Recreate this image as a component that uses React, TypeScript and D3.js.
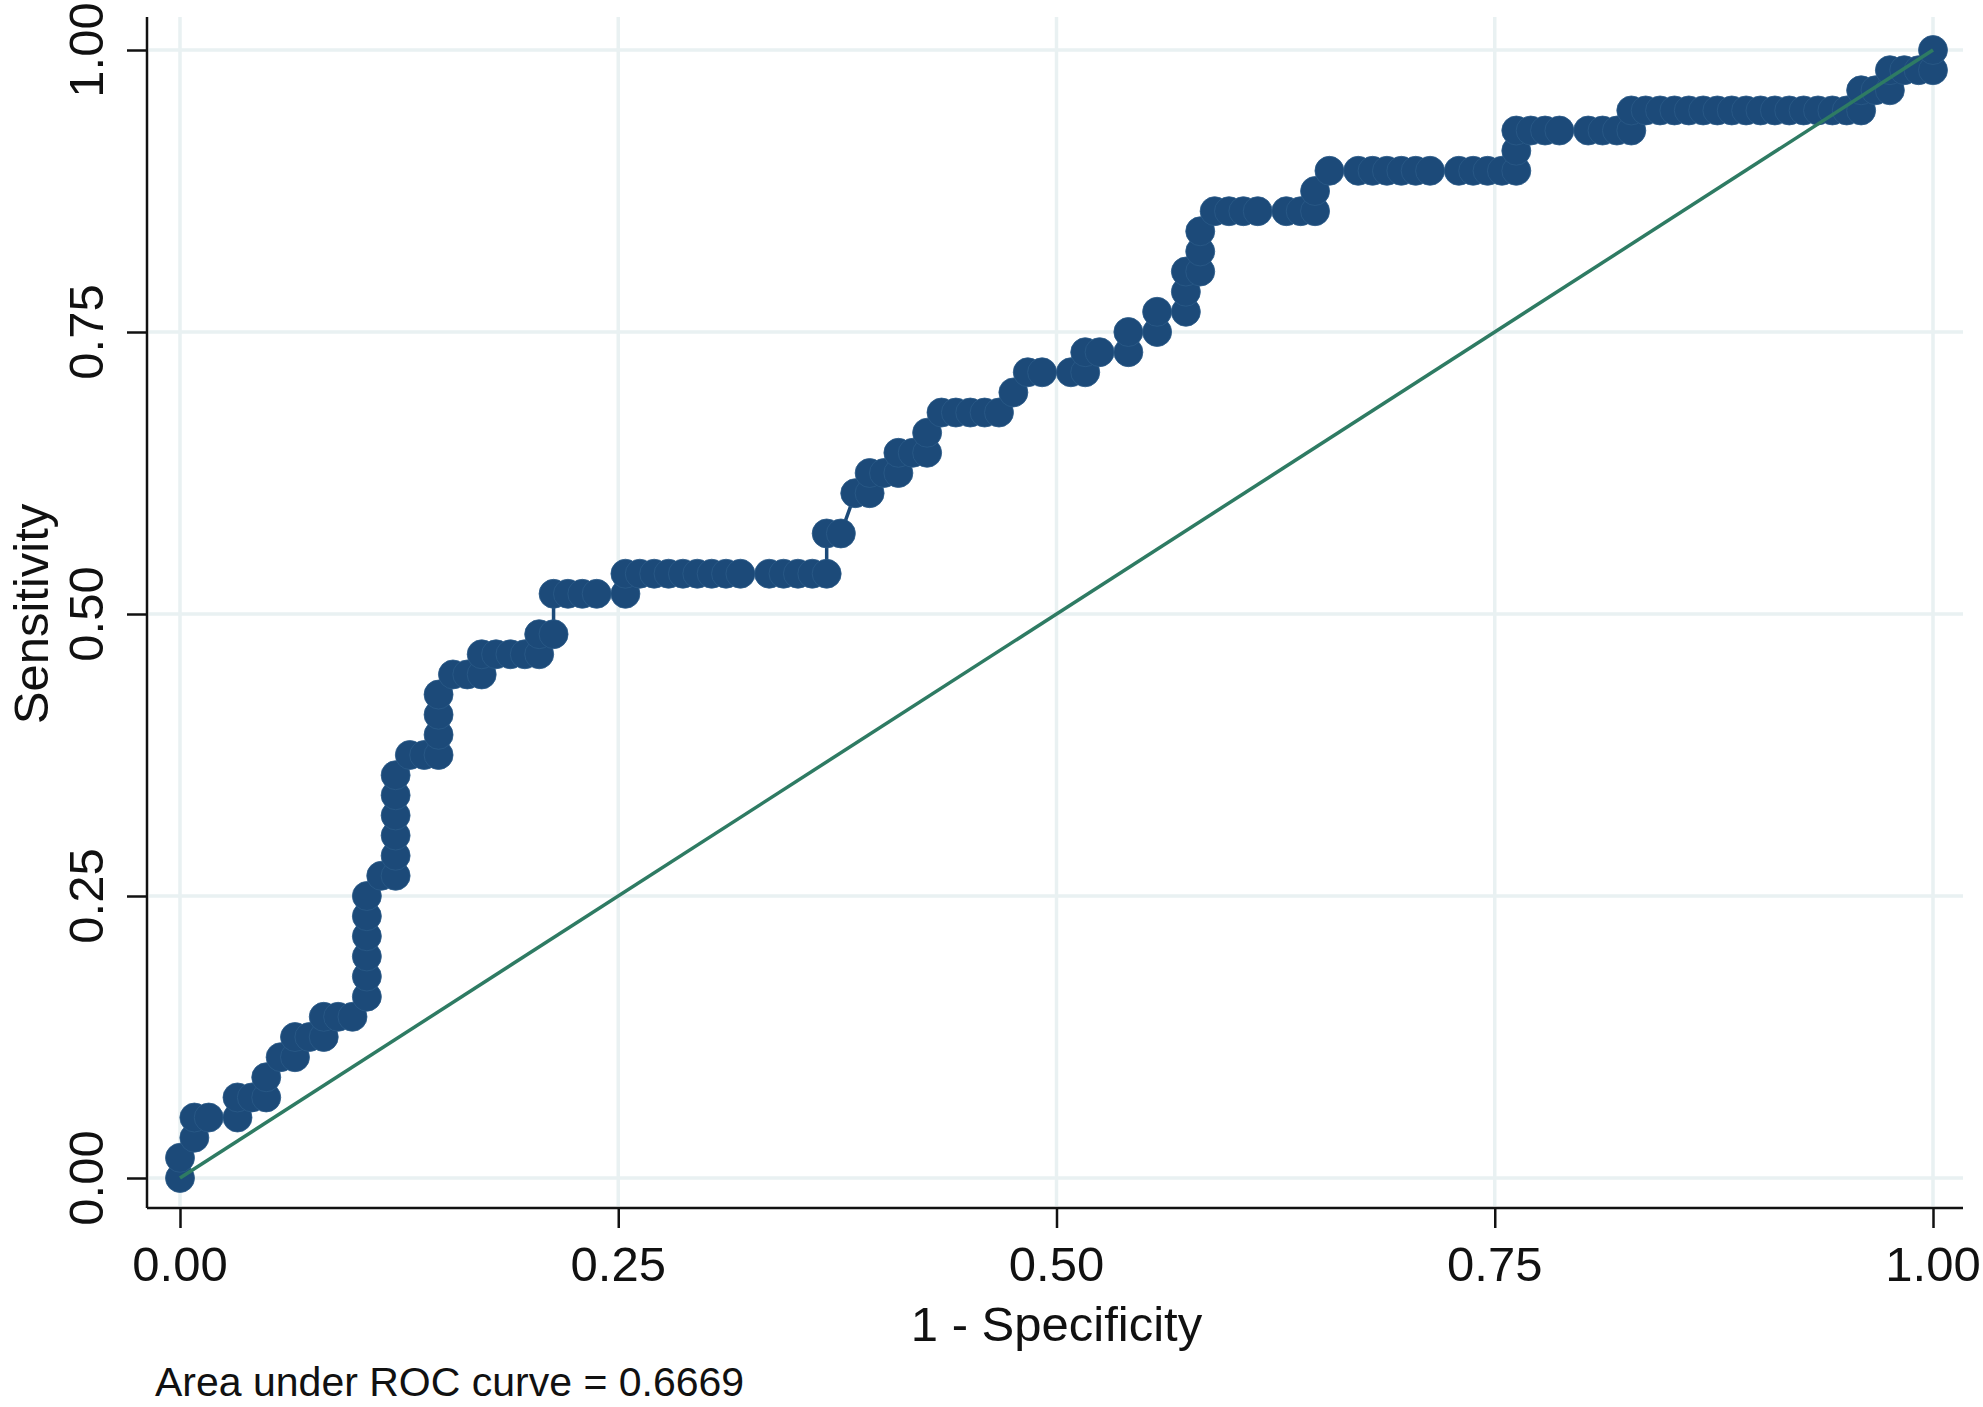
import { useEffect, useRef } from "react";
import * as d3 from "d3";

// ROC points (1 - specificity, sensitivity)
const fpr = [
  0, 0, 0.0082, 0.0082, 0.0164, 0.0328, 0.0328, 0.041, 0.0492, 0.0492,
  0.0574, 0.0656, 0.0656, 0.0738, 0.082, 0.082, 0.0902, 0.0984, 0.1066, 0.1066,
  0.1066, 0.1066, 0.1066, 0.1066, 0.1148, 0.123, 0.123, 0.123, 0.123, 0.123,
  0.123, 0.1311, 0.1393, 0.1475, 0.1475, 0.1475, 0.1475, 0.1557, 0.1639, 0.1721,
  0.1721, 0.1803, 0.1885, 0.1967, 0.2049, 0.2049, 0.2131, 0.2131, 0.2213, 0.2295,
  0.2377, 0.2541, 0.2541, 0.2623, 0.2705, 0.2787, 0.2869, 0.2951, 0.3033, 0.3115,
  0.3197, 0.3361, 0.3443, 0.3525, 0.3607, 0.3689, 0.3689, 0.377, 0.3852, 0.3934,
  0.3934, 0.4016, 0.4098, 0.4098, 0.418, 0.4262, 0.4262, 0.4344, 0.4426, 0.4508,
  0.459, 0.4672, 0.4754, 0.4836, 0.4918, 0.5082, 0.5164, 0.5164, 0.5246, 0.541,
  0.541, 0.5574, 0.5574, 0.5738, 0.5738, 0.5738, 0.582, 0.582, 0.582, 0.5902,
  0.5984, 0.6066, 0.6148, 0.6311, 0.6393, 0.6475, 0.6475, 0.6557, 0.6721, 0.6803,
  0.6885, 0.6967, 0.7049, 0.7131, 0.7295, 0.7377, 0.7459, 0.7541, 0.7623, 0.7623,
  0.7623, 0.7705, 0.7787, 0.7869, 0.8033, 0.8115, 0.8197, 0.8279, 0.8279, 0.8361,
  0.8443, 0.8525, 0.8607, 0.8689, 0.877, 0.8852, 0.8934, 0.9016, 0.9098, 0.918,
  0.9262, 0.9344, 0.9426, 0.9508, 0.959, 0.959, 0.9672, 0.9754, 0.9754, 0.9836,
  0.9918, 1, 1,
];
const sensitivity = [
  0, 0.0179, 0.0357, 0.0536, 0.0536, 0.0536, 0.0714, 0.0714, 0.0714, 0.0893,
  0.1071, 0.1071, 0.125, 0.125, 0.125, 0.1429, 0.1429, 0.1429, 0.1607, 0.1786,
  0.1964, 0.2143, 0.2321, 0.25, 0.2679, 0.2679, 0.2857, 0.3036, 0.3214, 0.3393,
  0.3571, 0.375, 0.375, 0.375, 0.3929, 0.4107, 0.4286, 0.4464, 0.4464, 0.4464,
  0.4643, 0.4643, 0.4643, 0.4643, 0.4643, 0.4821, 0.4821, 0.5179, 0.5179, 0.5179,
  0.5179, 0.5179, 0.5357, 0.5357, 0.5357, 0.5357, 0.5357, 0.5357, 0.5357, 0.5357,
  0.5357, 0.5357, 0.5357, 0.5357, 0.5357, 0.5357, 0.5714, 0.5714, 0.6071, 0.6071,
  0.625, 0.625, 0.625, 0.6429, 0.6429, 0.6429, 0.6607, 0.6786, 0.6786, 0.6786,
  0.6786, 0.6786, 0.6964, 0.7143, 0.7143, 0.7143, 0.7143, 0.7321, 0.7321, 0.7321,
  0.75, 0.75, 0.7679, 0.7679, 0.7857, 0.8036, 0.8036, 0.8214, 0.8393, 0.8571,
  0.8571, 0.8571, 0.8571, 0.8571, 0.8571, 0.8571, 0.875, 0.8929, 0.8929, 0.8929,
  0.8929, 0.8929, 0.8929, 0.8929, 0.8929, 0.8929, 0.8929, 0.8929, 0.8929, 0.9107,
  0.9286, 0.9286, 0.9286, 0.9286, 0.9286, 0.9286, 0.9286, 0.9286, 0.9464, 0.9464,
  0.9464, 0.9464, 0.9464, 0.9464, 0.9464, 0.9464, 0.9464, 0.9464, 0.9464, 0.9464,
  0.9464, 0.9464, 0.9464, 0.9464, 0.9464, 0.9643, 0.9643, 0.9643, 0.9821, 0.9821,
  0.9821, 0.9821, 1,
];
const ticks = [0, 0.25, 0.5, 0.75, 1];
const tickLabels = ["0.00", "0.25", "0.50", "0.75", "1.00"];
const aucText = "Area under ROC curve = 0.6669";

const W = 1983;
const H = 1407;
const FONT = "'Liberation Sans', Arial, Helvetica, sans-serif";

export default function App() {
  const ref = useRef<SVGSVGElement>(null);

  useEffect(() => {
    const svg = d3.select(ref.current);
    svg.selectAll("*").remove();

    const x = d3.scaleLinear().domain([0, 1]).range([180, 1933]);
    const y = d3.scaleLinear().domain([0, 1]).range([1178, 50]);
    const plot = { left: 147, right: 1963, top: 17, bottom: 1208 };

    svg.append("rect").attr("width", W).attr("height", H).attr("fill", "white");

    // grid
    const grid = svg.append("g").attr("stroke", "#e9f1f2").attr("stroke-width", 3.5);
    ticks.forEach((t) => {
      grid
        .append("line")
        .attr("x1", plot.left + 2)
        .attr("x2", plot.right)
        .attr("y1", y(t))
        .attr("y2", y(t));
      grid
        .append("line")
        .attr("x1", x(t))
        .attr("x2", x(t))
        .attr("y1", plot.top)
        .attr("y2", plot.bottom - 2);
    });

    // axes
    const yAxis = svg
      .append("g")
      .attr("transform", `translate(${plot.left},0)`)
      .call(d3.axisLeft(y).tickValues(ticks).tickSize(20).tickFormat(() => ""));
    yAxis.select(".domain").remove();
    yAxis.selectAll("line").attr("stroke", "#111").attr("stroke-width", 2.5);

    const xAxis = svg
      .append("g")
      .attr("transform", `translate(0,${plot.bottom})`)
      .call(d3.axisBottom(x).tickValues(ticks).tickSize(20).tickFormat(() => ""));
    xAxis.select(".domain").remove();
    xAxis.selectAll("line").attr("stroke", "#111").attr("stroke-width", 2.5);

    svg
      .append("line")
      .attr("x1", plot.left)
      .attr("x2", plot.left)
      .attr("y1", plot.top)
      .attr("y2", plot.bottom)
      .attr("stroke", "#111")
      .attr("stroke-width", 2.5);
    svg
      .append("line")
      .attr("x1", plot.left)
      .attr("x2", plot.right)
      .attr("y1", plot.bottom)
      .attr("y2", plot.bottom)
      .attr("stroke", "#111")
      .attr("stroke-width", 2.5);

    // tick labels
    ticks.forEach((t, i) => {
      svg
        .append("text")
        .text(tickLabels[i])
        .attr("x", x(t))
        .attr("y", 1281)
        .attr("text-anchor", "middle")
        .style("font-family", FONT)
        .style("font-size", "49px")
        .attr("fill", "#111");
      svg
        .append("text")
        .text(tickLabels[i])
        .attr("transform", `translate(103,${y(t)}) rotate(-90)`)
        .attr("text-anchor", "middle")
        .style("font-family", FONT)
        .style("font-size", "49px")
        .attr("fill", "#111");
    });

    // axis titles
    svg
      .append("text")
      .text("Sensitivity")
      .attr("transform", `translate(48,${y(0.5)}) rotate(-90)`)
      .attr("text-anchor", "middle")
      .style("font-family", FONT)
      .style("font-size", "49px")
      .attr("fill", "#111");
    svg
      .append("text")
      .text("1 - Specificity")
      .attr("x", x(0.5))
      .attr("y", 1341)
      .attr("text-anchor", "middle")
      .style("font-family", FONT)
      .style("font-size", "49px")
      .attr("fill", "#111");
    svg
      .append("text")
      .text(aucText)
      .attr("x", 155)
      .attr("y", 1396)
      .style("font-family", FONT)
      .style("font-size", "41px")
      .attr("fill", "#111");

    // ROC curve
    const pts = fpr.map((f, i) => [f, sensitivity[i]]);
    const line = d3
      .line()
      .x((d) => x(d[0]))
      .y((d) => y(d[1]));
    svg
      .append("path")
      .datum(pts)
      .attr("d", line)
      .attr("fill", "none")
      .attr("stroke", "#1c4a79")
      .attr("stroke-width", 3.5);

    svg
      .append("g")
      .selectAll("circle")
      .data(pts)
      .join("circle")
      .attr("cx", (d) => x(d[0]))
      .attr("cy", (d) => y(d[1]))
      .attr("r", 14.5)
      .attr("fill", "#1c4a79")
      .attr("stroke", "#2b5a88")
      .attr("stroke-width", 0.8);

    // reference line
    svg
      .append("line")
      .attr("x1", x(0))
      .attr("y1", y(0))
      .attr("x2", x(1))
      .attr("y2", y(1))
      .attr("stroke", "#2e7b63")
      .attr("stroke-width", 3.5);
  }, []);

  return (
    <svg
      ref={ref}
      width={W}
      height={H}
      style={{ position: "absolute", left: 0, top: 0, display: "block" }}
    ></svg>
  );
}
